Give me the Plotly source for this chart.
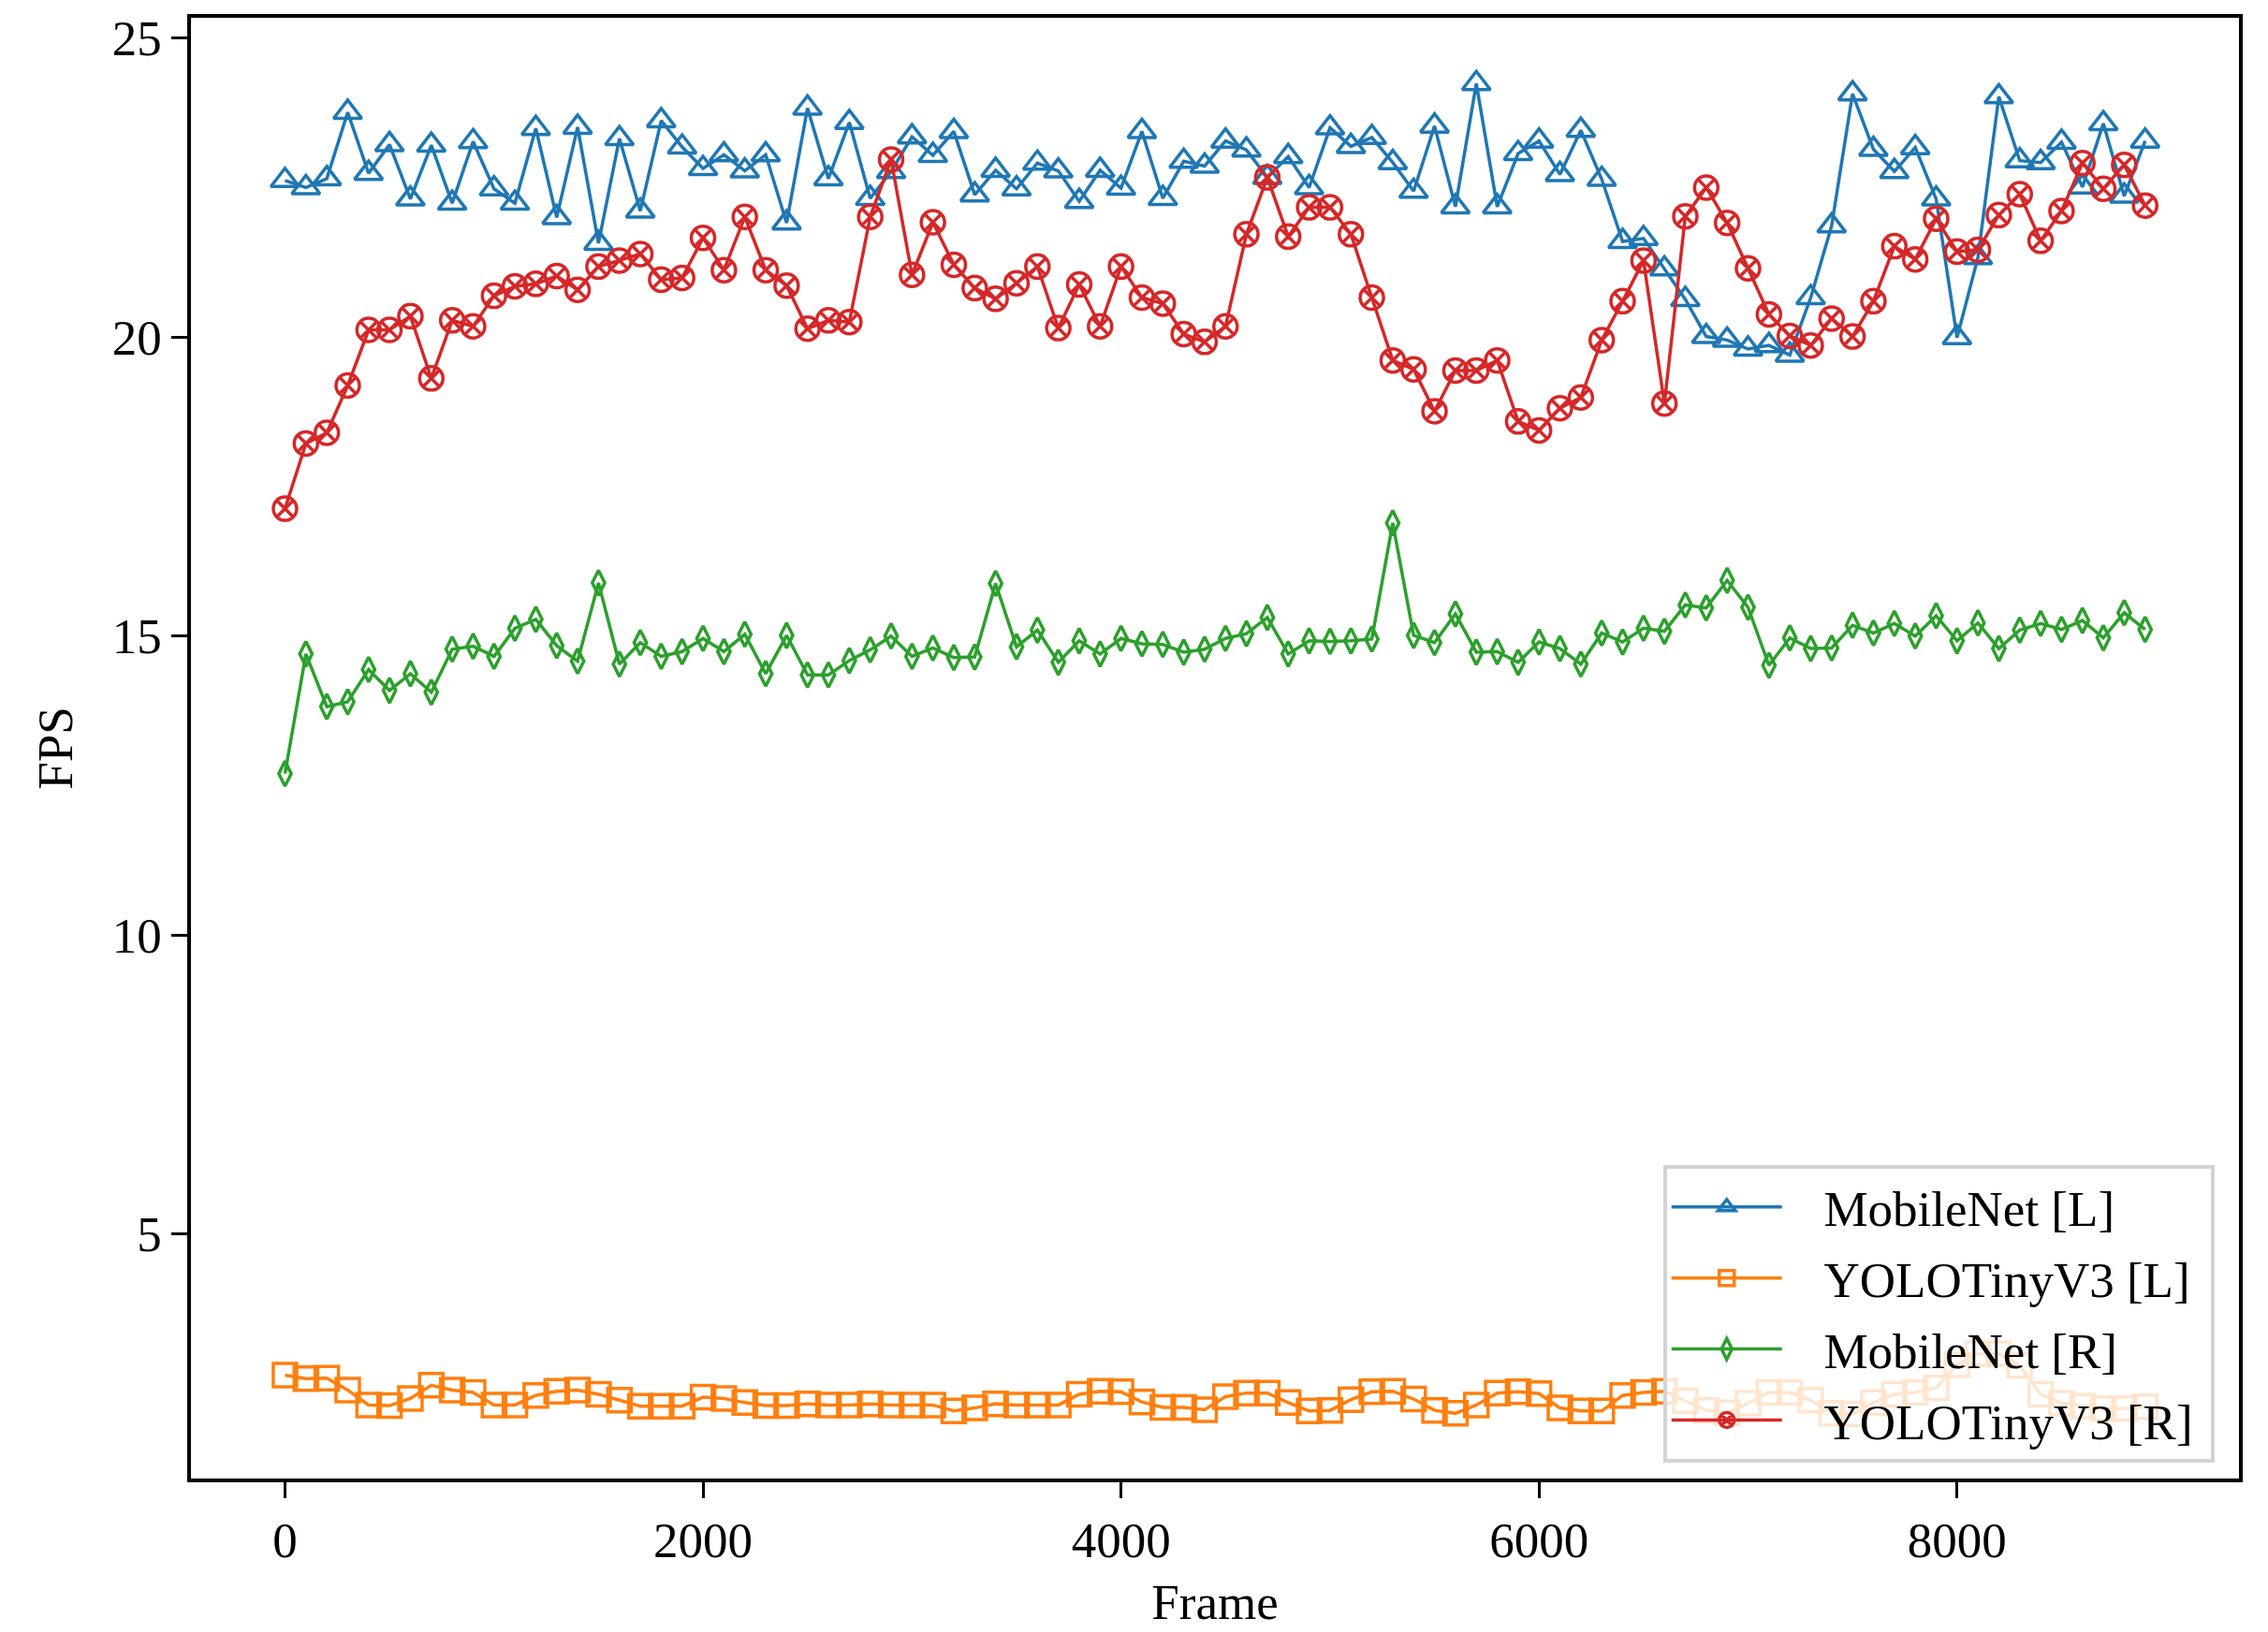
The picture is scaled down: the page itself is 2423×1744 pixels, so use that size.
import plotly.graph_objects as go

frames = [0, 100, 200, 300, 400, 500, 600, 700, 800, 900,
          1000, 1100, 1200, 1300, 1400, 1500, 1600, 1700, 1800, 1900,
          2000, 2100, 2200, 2300, 2400, 2500, 2600, 2700, 2800, 2900,
          3000, 3100, 3200, 3300, 3400, 3500, 3600, 3700, 3800, 3900,
          4000, 4100, 4200, 4300, 4400, 4500, 4600, 4700, 4800, 4900,
          5000, 5100, 5200, 5300, 5400, 5500, 5600, 5700, 5800, 5900,
          6000, 6100, 6200, 6300, 6400, 6500, 6600, 6700, 6800, 6900,
          7000, 7100, 7200, 7300, 7400, 7500, 7600, 7700, 7800, 7900,
          8000, 8100, 8200, 8300, 8400, 8500, 8600, 8700, 8800, 8900]

mobilenet_L = [22.62, 22.50, 22.65, 23.76, 22.74, 23.22, 22.31, 23.21, 22.24, 23.27,
               22.48, 22.24, 23.49, 22.00, 23.51, 21.57, 23.32, 22.11, 23.62, 23.18,
               22.82, 23.05, 22.78, 23.05, 21.91, 23.83, 22.65, 23.59, 22.32, 22.77,
               23.35, 23.04, 23.44, 22.38, 22.79, 22.48, 22.91, 22.78, 22.27, 22.79,
               22.49, 23.44, 22.32, 22.94, 22.86, 23.28, 23.13, 22.67, 23.02, 22.50,
               23.50, 23.19, 23.34, 22.92, 22.44, 23.53, 22.18, 24.24, 22.18, 23.07,
               23.28, 22.72, 23.46, 22.64, 21.60, 21.65, 21.14, 20.63, 20.01, 19.95,
               19.80, 19.86, 19.70, 20.66, 21.86, 24.07, 23.14, 22.77, 23.17, 22.31,
               19.99, 21.33, 24.02, 22.95, 22.92, 23.26, 22.51, 23.57, 22.36, 23.28]

yolo_L = [2.64, 2.58, 2.59, 2.39, 2.14, 2.13, 2.25, 2.47, 2.39, 2.35,
          2.14, 2.14, 2.30, 2.37, 2.39, 2.32, 2.22, 2.12, 2.12, 2.12,
          2.27, 2.25, 2.18, 2.13, 2.13, 2.16, 2.14, 2.14, 2.16, 2.14,
          2.14, 2.14, 2.04, 2.09, 2.16, 2.14, 2.14, 2.14, 2.32, 2.37,
          2.36, 2.19, 2.10, 2.10, 2.06, 2.28, 2.34, 2.34, 2.18, 2.04,
          2.05, 2.23, 2.36, 2.37, 2.24, 2.05, 2.00, 2.14, 2.34, 2.36,
          2.33, 2.09, 2.04, 2.04, 2.30, 2.35, 2.37, 2.21, 2.05, 2.01,
          2.17, 2.35, 2.35, 2.22, 2.00, 1.99, 2.18, 2.32, 2.35, 2.43,
          2.81, 3.00, 3.00, 2.80, 2.32, 2.17, 2.12, 2.08, 2.08, 2.11]

mobilenet_R = [12.70, 14.70, 13.82, 13.90, 14.44, 14.09, 14.37, 14.06, 14.78, 14.83,
               14.66, 15.13, 15.28, 14.84, 14.58, 15.89, 14.53, 14.89, 14.66, 14.74,
               14.96, 14.74, 15.03, 14.37, 15.01, 14.35, 14.35, 14.59, 14.77, 15.00,
               14.66, 14.80, 14.64, 14.65, 15.88, 14.82, 15.10, 14.56, 14.92, 14.70,
               14.96, 14.87, 14.86, 14.73, 14.78, 14.96, 15.04, 15.31, 14.70, 14.92,
               14.91, 14.92, 14.95, 16.89, 15.01, 14.89, 15.37, 14.73, 14.74, 14.56,
               14.90, 14.79, 14.53, 15.05, 14.90, 15.13, 15.08, 15.52, 15.47, 15.93,
               15.48, 14.51, 14.97, 14.79, 14.80, 15.18, 15.05, 15.21, 15.00, 15.34,
               14.92, 15.22, 14.79, 15.10, 15.21, 15.11, 15.26, 14.97, 15.39, 15.11]

yolo_R = [17.13, 18.22, 18.40, 19.19, 20.12, 20.12, 20.35, 19.31, 20.28, 20.18,
          20.69, 20.85, 20.89, 21.02, 20.79, 21.18, 21.28, 21.39, 20.96, 20.99,
          21.66, 21.12, 22.01, 21.12, 20.86, 20.14, 20.28, 20.25, 22.01, 22.97,
          21.04, 21.92, 21.21, 20.82, 20.64, 20.90, 21.18, 20.15, 20.88, 20.18,
          21.18, 20.66, 20.56, 20.05, 19.92, 20.18, 21.72, 22.67, 21.68, 22.17,
          22.17, 21.72, 20.66, 19.61, 19.46, 18.76, 19.44, 19.44, 19.61, 18.59,
          18.44, 18.81, 18.99, 19.95, 20.60, 21.28, 18.89, 22.02, 22.50, 21.91,
          21.15, 20.38, 20.02, 19.86, 20.31, 20.01, 20.60, 21.52, 21.30, 21.98,
          21.43, 21.46, 22.04, 22.39, 21.61, 22.11, 22.91, 22.48, 22.88, 22.20]

series_names = ["MobileNet [L]", "YOLOTinyV3 [L]", "MobileNet [R]", "YOLOTinyV3 [R]"]
x_ticks = [0, 2000, 4000, 6000, 8000]
y_ticks = [5, 10, 15, 20, 25]

FONT = "Liberation Serif, Times New Roman, serif"
FS = 53
LW = 3.5
PAD = "\u00a0\u00a0\u00a0"
TAIL = "\u00a0"

styles = [
    ("#1f77b4", "triangle-up-open", 26),
    ("#ff7f0e", "square-open", 25),
    ("#2ca02c", "diamond-tall-open", 19),
    ("#d62728", "circle-x-open", 25),
]

fig = go.Figure()
for i, (name, ys) in enumerate(zip(series_names, [mobilenet_L, yolo_L, mobilenet_R, yolo_R])):
    color, symbol, size = styles[i]
    fig.add_trace(go.Scatter(
        x=frames, y=ys, name=PAD + name + TAIL, mode="lines+markers",
        legendgroup=f"g{i}",
        line=dict(color=color, width=LW),
        marker=dict(symbol=symbol, size=size, color=color,
                    line=dict(color=color, width=LW)),
    ))

axis_common = dict(
    showline=True, linecolor="black", linewidth=3.5, mirror=True,
    ticks="outside", ticklen=17, tickwidth=3, tickcolor="black",
    showgrid=False, zeroline=False,
    tickfont=dict(family=FONT, size=FS, color="black"),
)

fig.update_layout(
    width=2423, height=1744,
    margin=dict(l=204, r=31, t=12, b=156),
    paper_bgcolor="white", plot_bgcolor="white",
    font=dict(family=FONT, size=FS, color="black"),
    xaxis=dict(range=[-450, 9349], tickvals=x_ticks,
               title=dict(text="Frame", font=dict(family=FONT, size=FS), standoff=20),
               **axis_common),
    yaxis=dict(range=[0.91, 25.34], tickvals=y_ticks,
               title=dict(text="FPS", font=dict(family=FONT, size=FS), standoff=26),
               **axis_common),
    legend=dict(
        x=0.988, y=0.011, xanchor="right", yanchor="bottom",
        bgcolor="rgba(255,255,255,0.8)", bordercolor="#d3d3d3", borderwidth=4,
        font=dict(family=FONT, size=FS, color="black"),
        tracegroupgap=4, itemwidth=118,
    ),
    showlegend=True,
)

fig.write_html("out.html")
